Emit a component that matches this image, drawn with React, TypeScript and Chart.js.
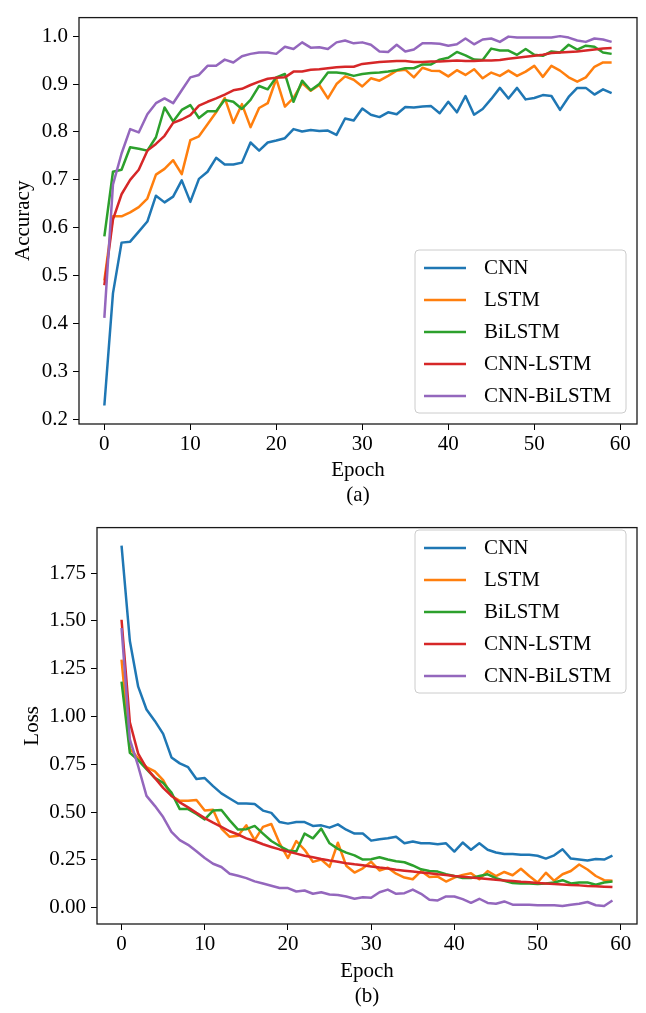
import React, { useEffect, useRef } from 'react';
import { Chart, registerables } from 'chart.js';

Chart.register(...registerables);

// ---------- data ----------
const epochs = [
  0, 1, 2, 3, 4, 5, 6, 7, 8, 9, 10, 11, 12, 13, 14, 15, 16, 17, 18, 19,
  20, 21, 22, 23, 24, 25, 26, 27, 28, 29, 30, 31, 32, 33, 34, 35, 36, 37, 38, 39,
  40, 41, 42, 43, 44, 45, 46, 47, 48, 49, 50, 51, 52, 53, 54, 55, 56, 57, 58, 59,
];

const seriesNames = ['CNN', 'LSTM', 'BiLSTM', 'CNN-LSTM', 'CNN-BiLSTM'];
const seriesColors = ['#1f77b4', '#ff7f0e', '#2ca02c', '#d62728', '#9467bd'];

const accCNN = [
  0.229, 0.463, 0.569, 0.571, 0.592, 0.613, 0.667, 0.653, 0.665, 0.699,
  0.654, 0.702, 0.717, 0.746, 0.732, 0.732, 0.736, 0.778, 0.761, 0.778,
  0.782, 0.787, 0.806, 0.801, 0.804, 0.802, 0.803, 0.794, 0.828, 0.824,
  0.849, 0.836, 0.831, 0.841, 0.837, 0.852, 0.851, 0.853, 0.854, 0.839,
  0.863, 0.841, 0.875, 0.836, 0.848, 0.869, 0.892, 0.870, 0.892, 0.868,
  0.871, 0.877, 0.875, 0.846, 0.873, 0.892, 0.892, 0.878, 0.889, 0.881,
];
const accLSTM = [
  0.490, 0.624, 0.624, 0.632, 0.643, 0.661, 0.711, 0.723, 0.741, 0.712,
  0.783, 0.791, 0.816, 0.841, 0.871, 0.819, 0.858, 0.810, 0.850, 0.860,
  0.911, 0.853, 0.871, 0.902, 0.886, 0.898, 0.870, 0.900, 0.916, 0.909,
  0.895, 0.912, 0.907, 0.917, 0.928, 0.930, 0.914, 0.934, 0.928, 0.927,
  0.916, 0.929, 0.919, 0.931, 0.912, 0.924, 0.917, 0.928, 0.917, 0.926,
  0.938, 0.915, 0.938, 0.928, 0.914, 0.905, 0.914, 0.936, 0.945, 0.945,
];
const accBiLSTM = [
  0.582, 0.717, 0.721, 0.768, 0.765, 0.761, 0.789, 0.851, 0.822, 0.846,
  0.856, 0.829, 0.843, 0.843, 0.867, 0.863, 0.848, 0.867, 0.896, 0.889,
  0.914, 0.921, 0.863, 0.907, 0.887, 0.900, 0.924, 0.924, 0.922, 0.917,
  0.921, 0.923, 0.924, 0.926, 0.929, 0.933, 0.933, 0.941, 0.941, 0.951,
  0.955, 0.967, 0.960, 0.951, 0.950, 0.974, 0.970, 0.970, 0.961, 0.973,
  0.961, 0.959, 0.968, 0.966, 0.982, 0.972, 0.980, 0.978, 0.966, 0.963,
];
const accCNNLSTM = [
  0.480, 0.617, 0.670, 0.700, 0.721, 0.761, 0.775, 0.792, 0.819, 0.826,
  0.835, 0.855, 0.863, 0.870, 0.878, 0.887, 0.890, 0.898, 0.905, 0.911,
  0.913, 0.914, 0.926, 0.926, 0.930, 0.931, 0.933, 0.935, 0.936, 0.936,
  0.942, 0.944, 0.946, 0.947, 0.948, 0.948, 0.946, 0.946, 0.947, 0.947,
  0.948, 0.949, 0.948, 0.948, 0.949, 0.949, 0.950, 0.953, 0.955, 0.957,
  0.959, 0.961, 0.965, 0.966, 0.967, 0.968, 0.970, 0.972, 0.974, 0.975,
];
const accCNNBiLSTM = [
  0.412, 0.690, 0.755, 0.806, 0.799, 0.837, 0.860, 0.870, 0.860, 0.887,
  0.914, 0.919, 0.938, 0.938, 0.951, 0.945, 0.958, 0.963, 0.966, 0.966,
  0.963, 0.978, 0.973, 0.987, 0.976, 0.977, 0.973, 0.987, 0.991, 0.985,
  0.987, 0.982, 0.968, 0.967, 0.982, 0.968, 0.972, 0.985, 0.985, 0.984,
  0.980, 0.983, 0.995, 0.983, 0.993, 0.995, 0.988, 0.999, 0.997, 0.997,
  0.997, 0.997, 0.997, 1.000, 0.997, 0.991, 0.988, 0.995, 0.993, 0.988,
];

const lossCNN = [
  1.894, 1.395, 1.156, 1.037, 0.977, 0.909, 0.786, 0.755, 0.735, 0.673,
  0.678, 0.636, 0.598, 0.571, 0.545, 0.545, 0.542, 0.508, 0.496, 0.448,
  0.440, 0.448, 0.448, 0.428, 0.431, 0.419, 0.436, 0.408, 0.388, 0.388,
  0.351, 0.358, 0.363, 0.371, 0.337, 0.346, 0.337, 0.337, 0.332, 0.337,
  0.294, 0.341, 0.303, 0.337, 0.303, 0.289, 0.281, 0.281, 0.277, 0.277,
  0.272, 0.257, 0.274, 0.306, 0.257, 0.252, 0.247, 0.255, 0.252, 0.272,
];
const lossLSTM = [
  1.298, 0.832, 0.781, 0.735, 0.713, 0.667, 0.585, 0.559, 0.559, 0.564,
  0.508, 0.513, 0.414, 0.371, 0.376, 0.431, 0.354, 0.423, 0.438, 0.337,
  0.260, 0.349, 0.303, 0.240, 0.252, 0.214, 0.340, 0.220, 0.184, 0.206,
  0.240, 0.195, 0.209, 0.178, 0.158, 0.149, 0.192, 0.161, 0.163, 0.137,
  0.158, 0.172, 0.180, 0.149, 0.192, 0.166, 0.187, 0.170, 0.204, 0.166,
  0.132, 0.183, 0.141, 0.175, 0.192, 0.226, 0.200, 0.166, 0.144, 0.141,
];
const lossBiLSTM = [
  1.182, 0.810, 0.772, 0.725, 0.679, 0.653, 0.602, 0.516, 0.516, 0.491,
  0.462, 0.508, 0.511, 0.457, 0.409, 0.411, 0.428, 0.388, 0.349, 0.323,
  0.300, 0.294, 0.388, 0.363, 0.414, 0.337, 0.308, 0.288, 0.274, 0.252,
  0.254, 0.264, 0.252, 0.243, 0.238, 0.221, 0.201, 0.192, 0.189, 0.175,
  0.166, 0.155, 0.155, 0.166, 0.175, 0.155, 0.141, 0.129, 0.127, 0.127,
  0.124, 0.127, 0.132, 0.144, 0.127, 0.132, 0.132, 0.120, 0.132, 0.137,
];
const lossCNNLSTM = [
  1.506, 0.970, 0.806, 0.730, 0.679, 0.627, 0.585, 0.551, 0.525, 0.496,
  0.469, 0.445, 0.423, 0.400, 0.383, 0.363, 0.349, 0.332, 0.318, 0.305,
  0.294, 0.283, 0.272, 0.264, 0.255, 0.247, 0.240, 0.233, 0.227, 0.222,
  0.216, 0.210, 0.205, 0.199, 0.194, 0.189, 0.184, 0.180, 0.175, 0.171,
  0.166, 0.162, 0.158, 0.154, 0.150, 0.146, 0.143, 0.140, 0.136, 0.133,
  0.130, 0.127, 0.124, 0.122, 0.119, 0.117, 0.114, 0.112, 0.110, 0.108,
];
const lossCNNBiLSTM = [
  1.463, 0.880, 0.740, 0.585, 0.533, 0.474, 0.397, 0.354, 0.329, 0.295,
  0.260, 0.230, 0.213, 0.178, 0.167, 0.155, 0.138, 0.127, 0.115, 0.103,
  0.103, 0.085, 0.090, 0.073, 0.081, 0.069, 0.067, 0.059, 0.047, 0.055,
  0.052, 0.081, 0.095, 0.073, 0.076, 0.095, 0.073, 0.042, 0.038, 0.059,
  0.059, 0.045, 0.026, 0.047, 0.025, 0.021, 0.033, 0.016, 0.016, 0.016,
  0.013, 0.013, 0.013, 0.009, 0.016, 0.021, 0.030, 0.013, 0.009, 0.038,
];

const xTickValues = [0, 10, 20, 30, 40, 50, 60];
const xTickLabels = ['0', '10', '20', '30', '40', '50', '60'];
const accTickValues = [0.2, 0.3, 0.4, 0.5, 0.6, 0.7, 0.8, 0.9, 1.0];
const accTickLabels = ['0.2', '0.3', '0.4', '0.5', '0.6', '0.7', '0.8', '0.9', '1.0'];
const lossTickValues = [0, 0.25, 0.5, 0.75, 1.0, 1.25, 1.5, 1.75];
const lossTickLabels = ['0.00', '0.25', '0.50', '0.75', '1.00', '1.25', '1.50', '1.75'];

const accSeries = [accCNN, accLSTM, accBiLSTM, accCNNLSTM, accCNNBiLSTM];
const lossSeries = [lossCNN, lossLSTM, lossBiLSTM, lossCNNLSTM, lossCNNBiLSTM];

// ---------- styling ----------
const FONT_FAMILY = '"Liberation Serif", "Times New Roman", serif';
const FONT_SIZE = 21;

const frameLegendPlugin = {
  id: 'frameLegend',
  afterDatasetsDraw(chart: any, _args: any, opts: any) {
    const { ctx, chartArea: a } = chart;
    ctx.save();
    // full box (matplotlib spines)
    ctx.strokeStyle = '#1a1a1a';
    ctx.lineWidth = 1.3;
    ctx.strokeRect(a.left, a.top, a.right - a.left, a.bottom - a.top);

    // legend
    const box = opts.box;
    const r = 4;
    ctx.beginPath();
    ctx.moveTo(box.left + r, box.top);
    ctx.lineTo(box.left + box.width - r, box.top);
    ctx.arcTo(box.left + box.width, box.top, box.left + box.width, box.top + r, r);
    ctx.lineTo(box.left + box.width, box.top + box.height - r);
    ctx.arcTo(box.left + box.width, box.top + box.height, box.left + box.width - r, box.top + box.height, r);
    ctx.lineTo(box.left + r, box.top + box.height);
    ctx.arcTo(box.left, box.top + box.height, box.left, box.top + box.height - r, r);
    ctx.lineTo(box.left, box.top + r);
    ctx.arcTo(box.left, box.top, box.left + r, box.top, r);
    ctx.closePath();
    ctx.fillStyle = 'rgba(255,255,255,0.85)';
    ctx.fill();
    ctx.strokeStyle = '#cccccc';
    ctx.lineWidth = 1;
    ctx.stroke();

    ctx.font = `${FONT_SIZE}px ${FONT_FAMILY}`;
    ctx.textBaseline = 'middle';
    ctx.textAlign = 'left';
    seriesNames.forEach((name, i) => {
      const y = box.top + box.firstOffset + i * box.spacing;
      ctx.strokeStyle = seriesColors[i];
      ctx.lineWidth = 2.5;
      ctx.beginPath();
      ctx.moveTo(box.left + 9, y);
      ctx.lineTo(box.left + 51, y);
      ctx.stroke();
      ctx.fillStyle = '#000';
      ctx.fillText(name, box.left + 69, y);
    });
    ctx.restore();
  },
};

type PanelProps = {
  series: number[][];
  yMin: number;
  yMax: number;
  yTicks: number[];
  yTickLabels: string[];
  yTitle: string;
  yTitlePad: number;
  yAxisWidth: number;
  caption: string;
  height: number;
  plotTop: number;
  plotBottom: number;
  titlePadBottom: number;
  legendBox: any;
};

function Panel(p: PanelProps) {
  const ref = useRef<HTMLCanvasElement | null>(null);
  useEffect(() => {
    if (!ref.current) return;
    const font = { family: FONT_FAMILY, size: FONT_SIZE, lineHeight: 1.2 };
    const chart = new Chart(ref.current, {
      type: 'line',
      data: {
        datasets: p.series.map((vals, i) => ({
          label: seriesNames[i],
          data: vals.map((v, j) => ({ x: epochs[j], y: v })),
          borderColor: seriesColors[i],
          backgroundColor: seriesColors[i],
          borderWidth: 2.5,
          pointRadius: 0,
          tension: 0,
          fill: false,
          borderJoinStyle: 'round',
          borderCapStyle: 'butt',
          order: seriesNames.length - i,
        })),
      },
      options: {
        animation: false,
        responsive: false,
        devicePixelRatio: 1,
        layout: {
          autoPadding: false,
          padding: { left: 0, right: 9, top: p.plotTop, bottom: 0 },
        },
        plugins: {
          legend: { display: false },
          tooltip: { enabled: false },
          frameLegend: { box: p.legendBox },
        } as any,
        scales: {
          x: {
            type: 'linear',
            min: -2.95,
            max: 61.95,
            afterFit: (s: any) => {
              s.height = p.height - p.plotBottom;
            },
            afterBuildTicks: (s: any) => {
              s.ticks = xTickValues.map((v) => ({ value: v }));
            },
            ticks: {
              callback: (_v: any, i: number) => xTickLabels[i],
              font,
              color: '#000',
              padding: 2,
              maxRotation: 0,
              autoSkip: false,
            },
            grid: {
              display: true,
              drawOnChartArea: false,
              drawTicks: true,
              tickLength: 6,
              tickColor: '#000',
              tickWidth: 1,
            },
            border: { display: false },
            title: {
              display: true,
              text: ['Epoch', p.caption],
              font,
              color: '#000',
              padding: { top: 0, bottom: p.titlePadBottom },
            },
          },
          y: {
            type: 'linear',
            min: p.yMin,
            max: p.yMax,
            afterFit: (s: any) => {
              s.width = p.yAxisWidth;
            },
            afterBuildTicks: (s: any) => {
              s.ticks = p.yTicks.map((v) => ({ value: v }));
            },
            ticks: {
              callback: (_v: any, i: number) => p.yTickLabels[i],
              font,
              color: '#000',
              padding: 5,
              autoSkip: false,
            },
            grid: {
              display: true,
              drawOnChartArea: false,
              drawTicks: true,
              tickLength: 6,
              tickColor: '#000',
              tickWidth: 1,
            },
            border: { display: false },
            title: {
              display: true,
              text: p.yTitle,
              font,
              color: '#000',
              padding: { top: p.yTitlePad, bottom: 0 },
            },
          },
        },
      } as any,
      plugins: [frameLegendPlugin as any],
    });
    return () => chart.destroy();
  }, []);
  return <canvas ref={ref} width={646} height={p.height} style={{ display: 'block' }} />;
}

export default function App() {
  return (
    <div style={{ position: 'absolute', left: 0, top: 0, width: 646, height: 1013, background: '#fff' }}>
      <Panel
        series={accSeries}
        yMin={0.1904}
        yMax={1.0387}
        yTicks={accTickValues}
        yTickLabels={accTickLabels}
        yTitle="Accuracy"
        yTitlePad={11}
        yAxisWidth={79}
        caption="(a)"
        height={510}
        plotTop={7}
        plotBottom={424}
        titlePadBottom={2}
        legendBox={{ left: 415, top: 250, width: 211, height: 163, firstOffset: 18, spacing: 32 }}
      />
      <Panel
        series={lossSeries}
        yMin={-0.085}
        yMax={1.988}
        yTicks={lossTickValues}
        yTickLabels={lossTickLabels}
        yTitle="Loss"
        yTitlePad={20}
        yAxisWidth={97}
        caption="(b)"
        height={503}
        plotTop={10}
        plotBottom={414}
        titlePadBottom={4}
        legendBox={{ left: 415, top: 20, width: 211, height: 163, firstOffset: 18, spacing: 32 }}
      />
    </div>
  );
}
